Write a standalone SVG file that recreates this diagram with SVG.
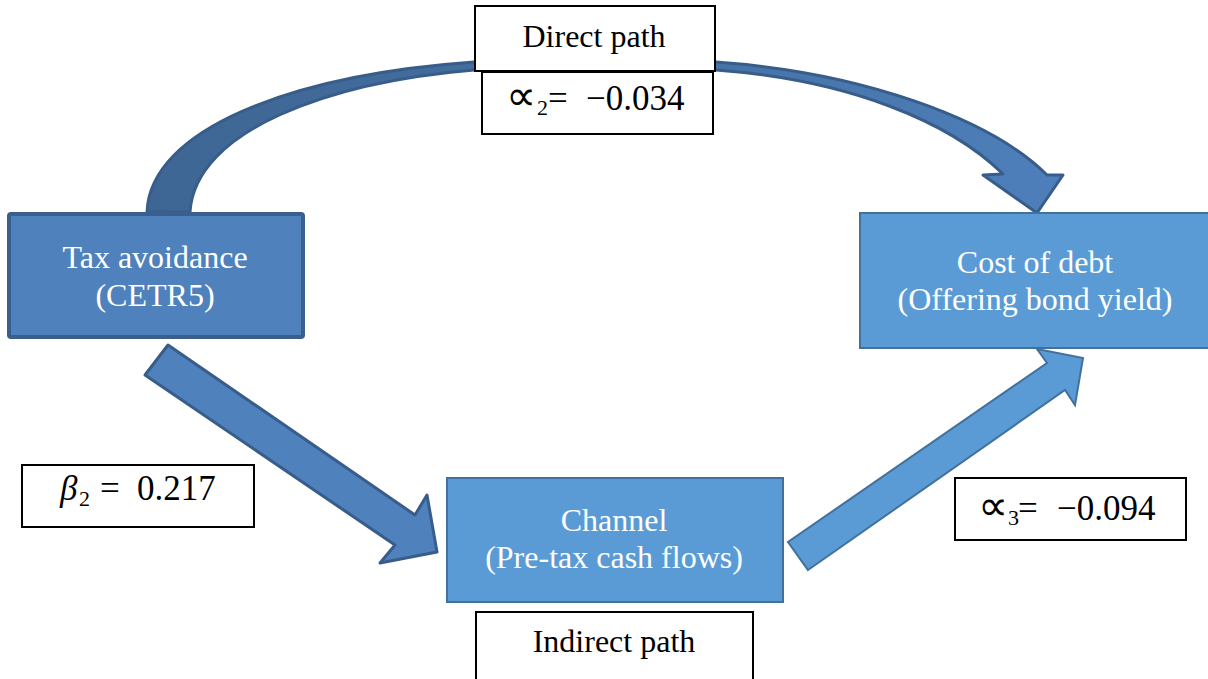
<svg xmlns="http://www.w3.org/2000/svg" width="1208" height="679" viewBox="0 0 1208 679">
  <defs>
    <linearGradient id="curveGrad" gradientUnits="userSpaceOnUse" x1="150" y1="0" x2="1060" y2="0">
      <stop offset="0" stop-color="#3e6695"/>
      <stop offset="0.5" stop-color="#44709f"/>
      <stop offset="1" stop-color="#4e7fbb"/>
    </linearGradient>
  </defs>
  <style>
    .node-dark { fill: #4f81bd; stroke: #3a5f8c; stroke-width: 4; }
    .node-light { fill: #5b9bd5; stroke: #41719c; stroke-width: 2; }
    .label-box { fill: #ffffff; stroke: #000000; stroke-width: 2; }
    .ntext { font-family: "Liberation Serif", "Times New Roman", serif; font-size: 32px; fill: #ffffff; text-anchor: middle; }
    .ltext { font-family: "Liberation Serif", "Times New Roman", serif; font-size: 32px; fill: #000000; text-anchor: middle; }
    .mtext { font-family: "Liberation Serif", "DejaVu Serif", serif; font-size: 35px; fill: #000000; }
    .prop { font-family: "DejaVu Sans", sans-serif; font-size: 42px; }
    .sub { font-size: 22px; }
    .arrow-dark { fill: #4f81bd; stroke: #385d8a; stroke-width: 3; stroke-linejoin: round; }
    .arrow-light { fill: #5b9bd5; stroke: #41719c; stroke-width: 2; stroke-linejoin: miter; }
    .arrow-curve { fill: url(#curveGrad); stroke: #385d8a; stroke-width: 3; stroke-linejoin: round; }
  </style>

  <g id="connectors">
    <path id="direct-arrow" class="arrow-curve" d="M 147,212 C 150,130 290,75 474,62 L 716,62 C 860,72 990,118 1047,175 L 1063,175 L 1037,213 L 983,175 L 1003,174 C 950,122 850,80 716,70 L 474,70 C 330,82 195,130 190,212 Z"/>
    <path id="arrow-tax-channel" class="arrow-dark" d="M 168,345 L 415,515 L 427,495 L 437,552 L 380,563 L 395,545 L 145,375 Z"/>
    <path id="arrow-channel-cost" class="arrow-light" d="M 808,570 L 1065,390 L 1075,405 L 1083,358 L 1037,349 L 1047,363 L 788,542 Z"/>
  </g>

  <g id="node-tax">
    <rect class="node-dark" x="9" y="214" width="294" height="123" rx="2"/>
    <text class="ntext" x="155" y="268">Tax avoidance</text>
    <text class="ntext" x="155" y="306">(CETR5)</text>
  </g>

  <g id="node-cost">
    <rect class="node-light" x="860" y="213" width="350" height="135"/>
    <text class="ntext" x="1035" y="273">Cost of debt</text>
    <text class="ntext" x="1035" y="310">(Offering bond yield)</text>
  </g>

  <g id="node-channel">
    <rect class="node-light" x="447" y="478" width="336" height="124"/>
    <text class="ntext" x="614" y="531">Channel</text>
    <text class="ntext" x="614" y="568">(Pre-tax cash flows)</text>
  </g>

  <g id="label-direct">
    <rect class="label-box" x="475" y="6" width="240" height="65"/>
    <text class="ltext" x="594" y="47">Direct path</text>
  </g>

  <g id="label-alpha2">
    <rect class="label-box" x="482" y="72" width="231" height="62"/>
    <text class="mtext" y="110"><tspan class="prop" x="506" y="110">∝</tspan><tspan class="sub" x="537" y="115">2</tspan><tspan x="548" y="110">=</tspan><tspan x="586">−0.034</tspan></text>
  </g>

  <g id="label-beta2">
    <rect class="label-box" x="22" y="465" width="232" height="62"/>
    <text class="mtext" y="500"><tspan x="60" font-style="italic">β</tspan><tspan class="sub" x="79" y="506">2</tspan><tspan x="100" y="500">=</tspan><tspan x="137">0.217</tspan></text>
  </g>

  <g id="label-alpha3">
    <rect class="label-box" x="955" y="478" width="231" height="62"/>
    <text class="mtext" y="520"><tspan class="prop" x="978" y="520">∝</tspan><tspan class="sub" x="1008" y="525">3</tspan><tspan x="1018" y="520">=</tspan><tspan x="1057">−0.094</tspan></text>
  </g>

  <g id="label-indirect">
    <rect class="label-box" x="476" y="612" width="277" height="70"/>
    <text class="ltext" x="614" y="652">Indirect path</text>
  </g>
</svg>
